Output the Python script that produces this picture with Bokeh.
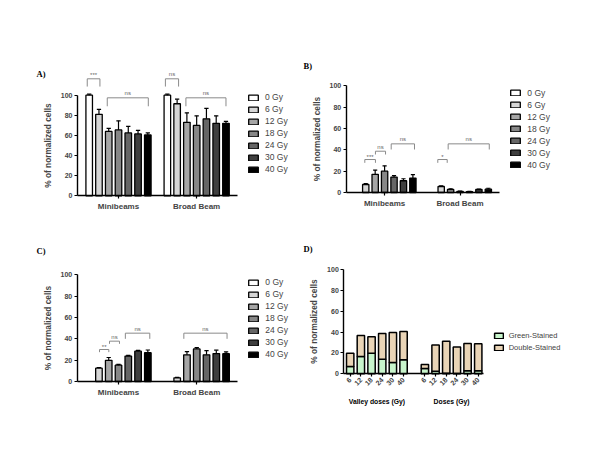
import math
from bokeh.plotting import figure
from bokeh.models import Range1d, FixedTicker, Legend, LegendItem, Label, ColumnDataSource
from bokeh.layouts import column, row
from bokeh.embed import file_html
from bokeh.resources import INLINE

NaN = float("nan")

# ---------------- data ----------------
dose_labels = ["0 Gy", "6 Gy", "12 Gy", "18 Gy", "24 Gy", "30 Gy", "40 Gy"]
group_labels = ["Minibeams", "Broad Beam"]
y_ticks = [0, 20, 40, 60, 80, 100]

# Panel A
a_mini = [100, 81, 64, 65.5, 62.5, 61.5, 60.5]
a_mini_err = [1, 5, 3, 9, 6.5, 3.5, 2]
a_broad = [100, 91.5, 73, 70, 76.5, 72, 72]
a_broad_err = [1, 4.5, 9.5, 9.5, 10.5, 7.5, 2]

# Panel B
b_mini = [NaN, 7.5, 17, 20, 14.5, 11, 13.5]
b_mini_err = [NaN, 0.8, 4, 5, 1.3, 1.9, 3.2]
b_broad = [NaN, 5.6, 2.8, 1.0, 0.8, 2.8, 3.1]
b_broad_err = [NaN, 0.6, 0.6, 0.3, 0.2, 0.4, 0.9]

# Panel C
c_mini = [NaN, 12.5, 19.8, 15.3, 23.8, 28.4, 27]
c_mini_err = [NaN, 0.6, 2.7, 0.7, 0.7, 0.7, 2.5]
c_broad = [NaN, 3.4, 25, 30.5, 25, 26.2, 26]
c_broad_err = [NaN, 0.4, 3, 1.2, 4, 3.2, 1.8]

# significance brackets (bar-slot start/end, top, end of legs, text, text height)
a_sig_x0 = [-0.2, 1.85, 7.8, 9.9]
a_sig_x1 = [1.1, 6.05, 9.15, 14.0]
a_sig_top = [116.3, 97.4, 116.3, 97.4]
a_sig_leg = [108.6, 89, 108.6, 89]
a_sig_text = ["***", "ns", "ns", "ns"]
a_sig_text_y = [120.5, 102.5, 121.3, 102.5]

b_sig_x0 = [0.9, 2.03, 3.7, 8.64, 9.74]
b_sig_x1 = [2.03, 3.1, 6.17, 9.64, 14.1]
b_sig_top = [30.9, 38.7, 45.6, 30.9, 45.6]
b_sig_leg = [27.8, 35.6, 40.3, 27.8, 40.3]
b_sig_text = ["***", "ns", "ns", "*", "ns"]
b_sig_text_y = [33.2, 42.3, 50, 33.2, 50]

c_sig_x0 = [1.06, 2.08, 3.7, 9.68]
c_sig_x1 = [2.01, 3.1, 6.2, 14.1]
c_sig_top = [30, 37.8, 45.3, 45.3]
c_sig_leg = [27.5, 35.3, 40, 40]
c_sig_text = ["**", "ns", "ns", "ns"]
c_sig_text_y = [32, 42, 49.2, 49.2]

# Panel D
d_dose_ticks = ["6", "12", "18", "24", "30", "40"]
d_group_labels = ["Valley doses (Gy)", "Doses (Gy)"]
d_series = ["Green-Stained", "Double-Stained"]
d_valley_green = [7, 16.6, 19.8, 14, 10.9, 13.4]
d_valley_double = [12.8, 20.1, 15.7, 24.7, 28.7, 27.2]
d_doses_green = [5.0, 2.4, 0.6, 0.4, 3.0, 3.0]
d_doses_double = [3.8, 25.2, 30.6, 25.2, 26.0, 25.9]

# ---------------- style ----------------
FONT = "Liberation Sans"
SERIF = "Liberation Serif"
bar_colors = ["#ffffff", "#d6d6d6", "#a6a6a6", "#878787", "#666666", "#3f3f3f", "#000000"]
d_colors = ["#c8f5cc", "#e9d4b6"]
GROUP_STEP = 8


class Panel:
    """A figure whose frame covers the whole figure; axes are pinned with fixed_location."""

    def __init__(self, px0, py0, w, h, xa_px, xa_val, x_ppu, y0_px, y_ppu,
                 yaxis_px, xaxis_end_px):
        self.px0, self.py0, self.w, self.h = px0, py0, w, h
        self.xa_px, self.xa_val, self.x_ppu = xa_px, xa_val, x_ppu
        self.y0_px, self.y_ppu = y0_px, y_ppu
        p = figure(width=w, height=h, output_backend="svg", toolbar_location=None,
                   min_border=0, min_border_left=0, min_border_right=0,
                   min_border_top=0, min_border_bottom=0,
                   x_range=Range1d(self.X(px0), self.X(px0 + w)),
                   y_range=Range1d(self.Y(py0 + h), self.Y(py0)))
        p.outline_line_color = None
        p.xgrid.visible = False
        p.ygrid.visible = False
        p.background_fill_color = "white"
        p.border_fill_color = "white"
        yax = p.yaxis[0]
        yax.fixed_location = self.X(yaxis_px)
        yax.ticker = FixedTicker(ticks=y_ticks)
        yax.bounds = (0, 100)
        yax.axis_label = "% of normalized cells"
        yax.axis_label_text_font = FONT
        yax.axis_label_text_font_style = "bold"
        yax.axis_label_text_font_size = "8.3px"
        yax.axis_label_standoff = 5
        yax.major_label_text_font = FONT
        yax.major_label_text_font_style = "bold"
        yax.major_label_text_font_size = "7px"
        yax.major_label_standoff = 2
        yax.major_tick_in = 0
        yax.major_tick_out = 3
        yax.minor_tick_out = 0
        yax.minor_tick_in = 0
        yax.axis_line_width = 1.4
        yax.major_tick_line_width = 1.2
        xax = p.xaxis[0]
        xax.fixed_location = 0
        xax.bounds = (self.X(yaxis_px), self.X(xaxis_end_px))
        xax.axis_line_width = 1.4
        xax.major_tick_line_width = 1.2
        xax.major_tick_in = 0
        xax.major_tick_out = 3
        xax.minor_tick_in = 0
        xax.minor_tick_out = 0
        xax.major_label_text_font = FONT
        xax.major_label_text_font_style = "bold"
        self.p = p

    def X(self, px):
        return self.xa_val + (px - self.xa_px) / self.x_ppu

    def Y(self, py):
        return (self.y0_px - py) / self.y_ppu

    def legend(self, items, left_px, bottom_px, **kw):
        lg = Legend(items=items, location=(left_px - self.px0, self.py0 + self.h - bottom_px),
                    orientation="vertical", spacing=0, padding=0, margin=0,
                    label_text_font=FONT, border_line_color=None,
                    background_fill_alpha=0, **kw)
        self.p.add_layout(lg)

    def title(self, text, left_px, mid_px):
        self.p.add_layout(Label(x=self.X(left_px), y=self.Y(mid_px), text=text,
                                text_align="left", text_baseline="middle",
                                text_font=SERIF, text_font_style="bold",
                                text_font_size="8.5px", text_color="black"))


def bar_panel(panel, mini, mini_err, broad, broad_err, sig, title, title_px, legend_px):
    p = panel.p
    xax = p.xaxis[0]
    centers = [g * GROUP_STEP + 3 for g in range(len(group_labels))]
    xax.ticker = FixedTicker(ticks=centers)
    xax.major_label_overrides = {c: lab for c, lab in zip(centers, group_labels)}
    xax.major_label_text_font_size = "8px"
    xax.major_label_standoff = 3

    items = []
    ex, ey0, ey1, cx0, cx1 = [], [], [], [], []
    for k, lab in enumerate(dose_labels):
        xs = [k, GROUP_STEP + k]
        tops = [mini[k], broad[k]]
        errs = [mini_err[k], broad_err[k]]
        src = ColumnDataSource(dict(x=xs, top=tops))
        r = p.vbar(x="x", top="top", bottom=0, width=0.67, source=src,
                   fill_color=bar_colors[k], line_color="black", line_width=1.3)
        items.append(LegendItem(label=lab, renderers=[r]))
        for x, t, e in zip(xs, tops, errs):
            if not (math.isnan(t) or math.isnan(e)):
                ex.append(x); ey0.append(t); ey1.append(t + e)
                cx0.append(x - 0.22); cx1.append(x + 0.22)
    p.segment(x0=ex, y0=ey0, x1=ex, y1=ey1, line_color="black", line_width=1.2)
    p.segment(x0=cx0, y0=ey1, x1=cx1, y1=ey1, line_color="black", line_width=1.2)

    x0s, x1s, tops, legs, texts, text_ys = sig
    bxs, bys = [], []
    for x0, x1, t, lg in zip(x0s, x1s, tops, legs):
        bxs.append([x0, x0, x1, x1])
        bys.append([lg, t, t, lg])
    p.multi_line(xs=bxs, ys=bys, line_color="#8a8a8a", line_width=1)
    for x0, x1, txt, ty in zip(x0s, x1s, texts, text_ys):
        p.add_layout(Label(x=(x0 + x1) / 2, y=ty, text=txt, text_align="center",
                           text_baseline="middle", text_font=FONT,
                           text_font_size="6px", text_color="#666666"))

    panel.title(title, *title_px)
    panel.legend(items, legend_px[0], legend_px[1], glyph_width=12, glyph_height=7,
                 label_height=12, label_width=20, label_standoff=6,
                 label_text_font_size="8.5px")
    return p


# figure placement on the page (the layout sits at the page's top-left corner)
COL_W = 292
ROW1_H, ROW2_H = 227, 221

PA = Panel(0, 0, COL_W, ROW1_H, 118, 3, 9.77, 195.3, 1.006, 77, 237)
bar_panel(PA, a_mini, a_mini_err, a_broad, a_broad_err,
          (a_sig_x0, a_sig_x1, a_sig_top, a_sig_leg, a_sig_text, a_sig_text_y),
          "A)", (36, 73), (247, 175))

PB = Panel(COL_W, 0, COL_W, ROW1_H, 384.1, 3, 9.43, 192, 1.067, 345.7, 499.3)
bar_panel(PB, b_mini, b_mini_err, b_broad, b_broad_err,
          (b_sig_x0, b_sig_x1, b_sig_top, b_sig_leg, b_sig_text, b_sig_text_y),
          "B)", (303, 65), (509.3, 170.7))

PC = Panel(0, ROW1_H, COL_W, ROW2_H, 118, 3, 9.78, 381, 1.067, 76.7, 236.7)
bar_panel(PC, c_mini, c_mini_err, c_broad, c_broad_err,
          (c_sig_x0, c_sig_x1, c_sig_top, c_sig_leg, c_sig_text, c_sig_text_y),
          "C)", (36, 250), (247.3, 360.3))

# ---------------- panel D ----------------
PD = Panel(COL_W, ROW1_H, COL_W, ROW2_H, 349.7, 0, 10.67, 373.3, 1.043, 343.3, 483.3)
pd = PD.p
n = len(d_dose_ticks)
d_x = list(range(n)) + [n + 1 + i for i in range(n)]
d_src = ColumnDataSource(dict(
    x=d_x,
    green=d_valley_green + d_doses_green,
    double=d_valley_double + d_doses_double,
))
d_rs = pd.vbar_stack(["green", "double"], x="x", width=0.69, source=d_src,
                     fill_color=d_colors, line_color="black", line_width=1.5)
dx_ax = pd.xaxis[0]
dx_ax.ticker = FixedTicker(ticks=d_x)
dx_ax.major_label_overrides = {x: lab for x, lab in zip(d_x, d_dose_ticks + d_dose_ticks)}
dx_ax.major_label_orientation = math.pi / 4
dx_ax.major_label_text_font_size = "7px"
dx_ax.major_label_standoff = 2
for gx, lab in zip([(n - 1) / 2, n + 1 + (n - 1) / 2], d_group_labels):
    pd.add_layout(Label(x=gx, y=PD.Y(400.7), text=lab, text_align="center",
                        text_baseline="middle", text_font=FONT, text_font_style="bold",
                        text_font_size="6.8px", text_color="black"))
PD.title("D)", 303, 248)
PD.legend([LegendItem(label=lab, renderers=[r]) for lab, r in zip(d_series, d_rs)],
          492.7, 353.7, glyph_width=11, glyph_height=7, label_height=12, label_width=20,
          label_standoff=5, label_text_font_size="7.5px")

layout = column(row(PA.p, PB.p), row(PC.p, PD.p))

with open("out.html", "w") as f:
    f.write(file_html(layout, INLINE))
